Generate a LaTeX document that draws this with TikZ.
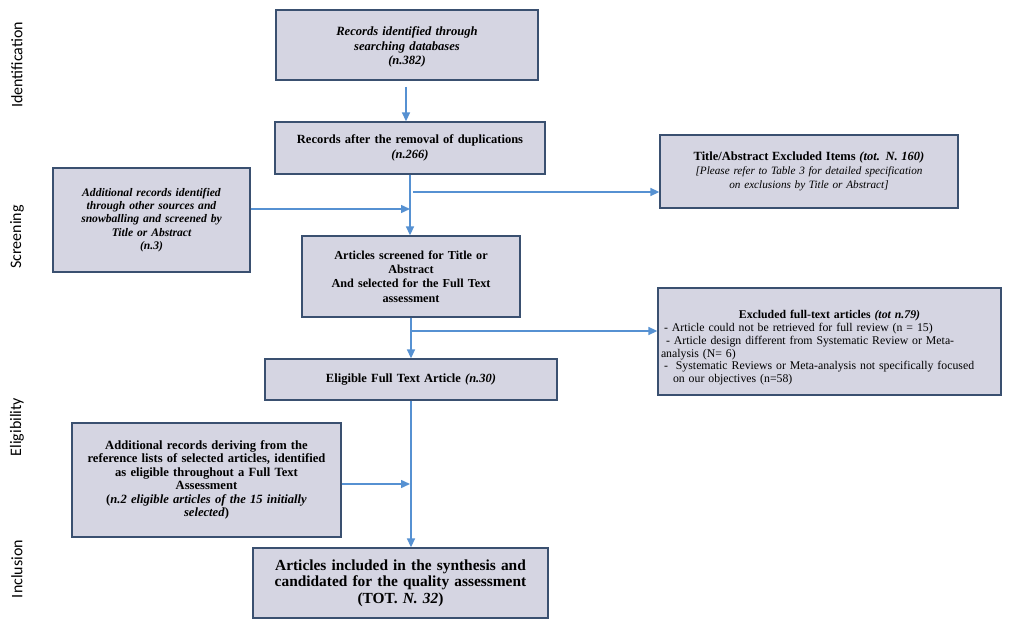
\documentclass[tikz,border=0pt]{standalone}
\usepackage{fontspec}
\setmainfont{Liberation Serif}
\newfontfamily\sidefont{Carlito}
\usetikzlibrary{arrows.meta}
\definecolor{boxfill}{RGB}{213,213,226}
\definecolor{boxline}{RGB}{58,80,112}
\definecolor{arrowblue}{RGB}{86,145,210}
\tikzset{
  fbox/.style={draw=boxline, fill=boxfill, line width=1.3pt, inner sep=2pt, align=center},
  arr/.style={draw=arrowblue, line width=1.5pt, -{Triangle[length=9pt,width=8pt]}},
  phase/.style={rotate=90, font=\sidefont\fontsize{16}{18}\selectfont},
}
\begin{document}
\begin{tikzpicture}[x=1pt,y=-1pt]
\useasboundingbox[fill=white] (0,0) rectangle (1020,631);

% phase labels
\node[phase] (p1) at (17,65) {Identification};
\node[phase] (p2) at (17,237) {Screening};
\node[phase] (p3) at (17,427) {Eligibility};
\node[phase] (p4) at (17,569) {Inclusion};

% boxes
\node[fbox, minimum width=262pt, minimum height=70pt, text width=254pt,
  font=\fontsize{12.6}{14.8}\selectfont\bfseries\itshape] (b1) at (407,45)
  {\rule{0pt}{13pt}Records identified through\\searching databases\\(n.382)};

\node[fbox, minimum width=270pt, minimum height=52pt, text width=264pt,
  font=\fontsize{12.5}{15}\selectfont\bfseries] (b2) at (410,148)
  {Records after the removal of duplications\\\textit{(n.266)}};

\node[fbox, minimum width=298pt, minimum height=73pt, text width=292pt,
  font=\fontsize{11.2}{14}\selectfont] (b3) at (809,171.5)
  {{\fontsize{12.5}{14}\selectfont\bfseries Title/Abstract Excluded Items \textit{(tot. N. 160)}}\\
   \textit{{[}Please refer to Table 3 for detailed specification}\\
   \textit{on exclusions by Title or Abstract{]}}};

\node[fbox, minimum width=197pt, minimum height=104pt, text width=192pt,
  font=\fontsize{11.6}{13.4}\selectfont\bfseries\itshape] (b4) at (151.5,220)
  {Additional records identified\\through other sources and\\snowballing and screened by\\Title or Abstract\\(n.3)};

\node[fbox, minimum width=218pt, minimum height=81pt, text width=214pt,
  font=\fontsize{12.2}{14.4}\selectfont\bfseries] (b5) at (411,276.5)
  {Articles screened for Title or\\Abstract\\And selected for the Full Text\\assessment};

\node[fbox, minimum width=343pt, minimum height=107pt, text width=337pt, align=left,
  font=\fontsize{11.8}{12.8}\selectfont] (b6) at (829.5,341.5)
  {\makebox[337pt][c]{\rule{0pt}{21pt}\bfseries Excluded full-text articles \textit{(tot n.79)}}\\
   \hspace*{3pt}- Article could not be retrieved for full review (n = 15)\\
   \hspace*{5pt}- Article design different from Systematic Review or Meta-\\
   analysis (N= 6)\\
   \hspace*{3pt}-\hspace{8pt}Systematic Reviews or Meta-analysis not specifically focused\\
   \hspace*{12pt}on our objectives (n=58)};

\node[fbox, minimum width=292pt, minimum height=41pt, text width=284pt,
  font=\fontsize{12.5}{14}\selectfont\bfseries] (b7) at (411,379.5)
  {Eligible Full Text Article \textit{(n.30)}};

\node[fbox, minimum width=269pt, minimum height=114pt, text width=265pt,
  font=\fontsize{12.6}{13.4}\selectfont\bfseries] (b8) at (206.5,480)
  {Additional records deriving from the\\reference lists of selected articles, identified\\as eligible throughout a Full Text\\Assessment\\(\textit{n.2 eligible articles of the 15 initially}\\\textit{selected})};

\node[fbox, minimum width=295pt, minimum height=70pt, text width=290pt,
  font=\fontsize{15.4}{16.5}\selectfont\bfseries] (b9) at (400.5,583)
  {Articles included in the synthesis and\\candidated for the quality assessment\\(TOT. \textit{N. 32})};

% connectors
\coordinate (c1) at (406,87);
\draw[arr] (c1) -- (c1 |- b2.north);

\draw[arr] (b2.south) -- (b2.south |- b5.north);

\coordinate (c2) at (413,192);
\draw[arr] (c2) -- (c2 -| b3.west);

\coordinate (c3) at (410,209);
\draw[arr] (c3 -| b4.east) -- (c3);

\draw[arr] (b5.south) -- (b5.south |- b7.north);

\coordinate (c4) at (411,331);
\draw[arr] (c4) -- (c4 -| b6.west);

\draw[arr] (b7.south) -- (b7.south |- b9.north);

\coordinate (c5) at (410,484);
\draw[arr] (c5 -| b8.east) -- (c5);
\end{tikzpicture}
\end{document}
